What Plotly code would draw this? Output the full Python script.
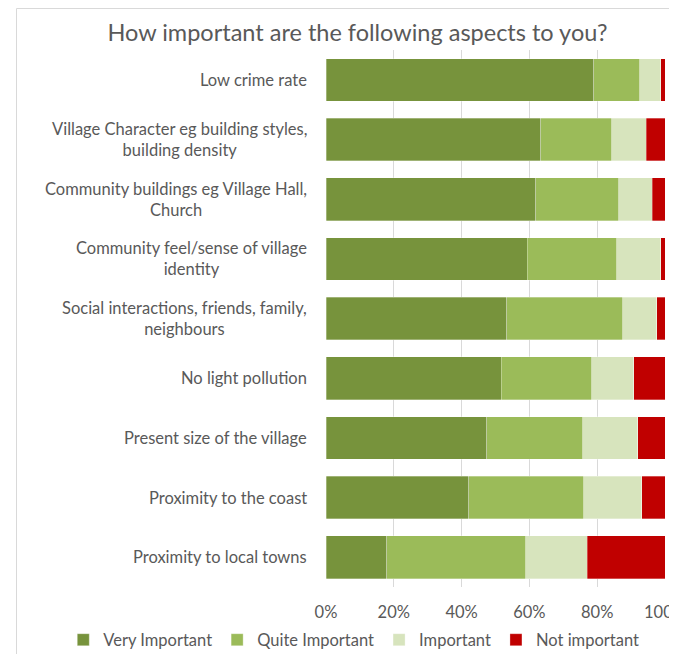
import plotly.graph_objects as go

aspects = [
    "Low crime rate",
    "Village Character eg building styles,<br>building density",
    "Community buildings eg Village Hall,<br>Church",
    "Community feel/sense of village<br>identity",
    "Social interactions, friends, family,<br>neighbours",
    "No light pollution",
    "Present size of the village",
    "Proximity to the coast",
    "Proximity to local towns",
]
very_important = [79.0, 63.4, 61.9, 59.4, 53.3, 51.7, 47.4, 42.1, 17.9]
quite_important = [13.5, 20.9, 24.4, 26.3, 34.2, 26.7, 28.4, 33.9, 41.0]
important = [6.3, 10.1, 10.0, 13.0, 10.0, 12.4, 16.2, 17.2, 18.1]
not_important = [1.2, 5.6, 3.7, 1.3, 2.5, 9.2, 8.0, 6.8, 23.0]

series = [
    ("Very Important", very_important, "#77933C"),
    ("Quite Important", quite_important, "#9BBB59"),
    ("Important", important, "#D7E4BD"),
    ("Not important", not_important, "#C00000"),
]

FONT = "Lato"
GREY = "#595959"

fig = go.Figure()
for name, vals, col in series:
    fig.add_trace(go.Bar(
        name=name, y=aspects, x=vals, orientation="h",
        marker=dict(color=col, line=dict(color="rgba(255,255,255,0.5)", width=0.6)),
    ))

# category labels, centred line by line like Excel
for a in aspects:
    fig.add_annotation(
        x=0, xref="paper", y=a, yref="y", text=a, showarrow=False,
        xanchor="right", xshift=-17, align="center",
        font=dict(family=FONT, size=16.5, color=GREY),
    )

# chart frame (page has an 8px body margin, so everything sits 8px in)
fig.add_shape(type="rect", xref="paper", yref="paper",
              x0=-0.913, x1=1.2, y0=-0.3, y1=1.0773,
              line=dict(color="#D9D9D9", width=1), layer="below")

fig.update_layout(
    width=669, height=646,
    barmode="stack", bargap=0.285,
    paper_bgcolor="white", plot_bgcolor="white",
    margin=dict(l=318, r=11.5, t=42, b=67, autoexpand=False),
    title=dict(text="How important are the following aspects to you?",
               x=0.5225, xanchor="center", y=1 - 25 / 646, yanchor="middle",
               font=dict(family=FONT, size=23.5, color=GREY)),
    font=dict(family=FONT, size=16.5, color=GREY),
    legend=dict(orientation="h", x=-0.775, xanchor="left",
                y=-0.0987, yanchor="middle",
                font=dict(family=FONT, size=16.5, color=GREY),
                itemwidth=30, traceorder="normal"),
    showlegend=True,
)
fig.update_xaxes(range=[0, 100], tickvals=[0, 20, 40, 60, 80, 100],
                 ticktext=["0%", "20%", "40%", "60%", "80%", "100%"],
                 showgrid=True, gridcolor="#D9D9D9", gridwidth=1,
                 zeroline=False, showline=False, ticks="outside",
                 ticklen=10, tickcolor="rgba(0,0,0,0)",
                 ticklabeloverflow="allow")
fig.update_yaxes(autorange="reversed", showticklabels=False, showgrid=False,
                 showline=False, ticks="")

fig.write_html("out.html")
